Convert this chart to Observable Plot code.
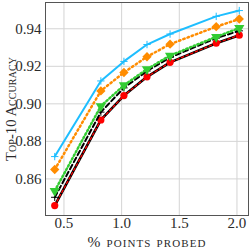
<!DOCTYPE html>
<html>
<head>
<meta charset="utf-8">
<script src="https://cdn.jsdelivr.net/npm/d3@7"></script>
<script src="https://cdn.jsdelivr.net/npm/@observablehq/plot@0.6"></script>
<style>
  html, body { margin: 0; padding: 0; background: #fff; }
  g[aria-label="x-axis label"] text {
    font-variant: small-caps; font-size: 15.5px; letter-spacing: 1.1px;
  }
  g[aria-label="y-axis label"] text {
    font-variant: small-caps; font-size: 14.5px; letter-spacing: 0.1px;
  }
</style>
</head>
<body>
<div id="chart"></div>
<script>
const xValues = [0.42, 0.82, 1.02, 1.22, 1.42, 1.82, 2.02];
const cyanSeries   = [0.8719, 0.9122, 0.9226, 0.9316, 0.9372, 0.9466, 0.9497];
const orangeSeries = [0.8650, 0.9069, 0.9167, 0.9251, 0.9318, 0.9411, 0.9452];
const greenSeries  = [0.8536, 0.8988, 0.9099, 0.9185, 0.9257, 0.9357, 0.9404];
const blackSeries  = [0.8502, 0.8956, 0.9085, 0.9175, 0.9247, 0.9350, 0.9389];
const redSeries    = [0.8458, 0.8914, 0.9044, 0.9144, 0.9221, 0.9323, 0.9366];
const xTicks = [0.5, 1.0, 1.5, 2.0];
const yTicks = [0.86, 0.88, 0.90, 0.92, 0.94];
const xLabel = "% points probed";
const yLabel = "Top-10 Accuracy";

const rows = s => xValues.map((x, i) => ({x, y: s[i]}));
const cyan = rows(cyanSeries), orange = rows(orangeSeries), green = rows(greenSeries),
      black = rows(blackSeries), red = rows(redSeries);

const chart = Plot.plot({
  width: 249, height: 249,
  marginLeft: 45, marginRight: 1, marginTop: 2, marginBottom: 34,
  style: {fontFamily: "'Liberation Serif', serif", fontSize: "15px", color: "#2a2a2a", background: "#fff"},
  x: {domain: [0.34, 2.10]},
  y: {domain: [0.8405, 0.954]},
  marks: [
    Plot.gridX(xTicks, {stroke: "#d4d4d4", strokeOpacity: 1, strokeWidth: 1}),
    Plot.gridY(yTicks, {stroke: "#d4d4d4", strokeOpacity: 1, strokeWidth: 1}),
    Plot.axisX({ticks: xTicks, tickFormat: d3.format(".1f"), tickSize: 0, tickPadding: 2,
      label: xLabel, labelAnchor: "center", labelArrow: "none", labelOffset: 31, fill: "#2a2a2a"}),
    Plot.axisY({ticks: yTicks, tickFormat: d3.format(".2f"), tickSize: 0, tickPadding: 4,
      label: yLabel, labelAnchor: "center", labelArrow: "none", labelOffset: 40, fill: "#2a2a2a"}),
    Plot.line(red, {x: "x", y: "y", stroke: "#000", strokeWidth: 2.6}),
    Plot.line(red, {x: "x", y: "y", stroke: "#ff0000", strokeWidth: 1.3, strokeDasharray: "2.5,2.5"}),
    Plot.dot(red, {x: "x", y: "y", symbol: "circle", r: 3.6, fill: "#ff0000", stroke: "none"}),
    Plot.line(black, {x: "x", y: "y", stroke: "#000", strokeWidth: 2, strokeDasharray: "5,3"}),
    Plot.dot(black, {x: "x", y: "y", symbol: "plus", r: 2.5, stroke: "#000", strokeWidth: 1}),
    Plot.line(green, {x: "x", y: "y", stroke: "#33cc33", strokeWidth: 2.5, strokeDasharray: "1.5,2.5"}),
    Plot.dot(green, {x: "x", y: "y", symbol: "triangle", rotate: 180, r: 3.8, fill: "#33cc33", stroke: "none"}),
    Plot.line(orange, {x: "x", y: "y", stroke: "#ff8c00", strokeWidth: 2.5, strokeDasharray: "1.5,3"}),
    Plot.dot(orange, {x: "x", y: "y", symbol: "diamond2", r: 4.2, fill: "#ff8c00", stroke: "none"}),
    Plot.line(cyan, {x: "x", y: "y", stroke: "#1ebeff", strokeWidth: 2}),
    Plot.dot(cyan, {x: "x", y: "y", symbol: "plus", r: 2.5, stroke: "#1ebeff", strokeWidth: 1}),
    Plot.frame({stroke: "#555", strokeWidth: 1})
  ]
});
document.getElementById("chart").appendChild(chart);
</script>
</body>
</html>
